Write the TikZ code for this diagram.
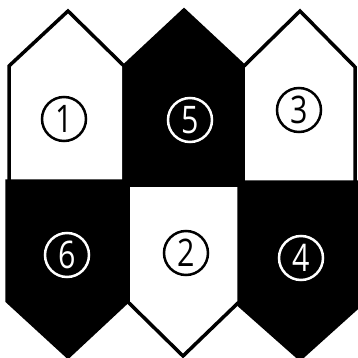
\documentclass[tikz,border=0pt]{standalone}
\usepackage{fontspec}
\newfontfamily\digitfont[FakeStretch=0.8]{Open Sans}
\begin{document}
\begin{tikzpicture}[x=1pt,y=-1pt,
  tile/.style={draw=black,line width=3.5pt,line join=miter},
  whitetile/.style={tile,fill=white},
  blacktile/.style={tile,fill=black},
  numw/.style={circle,draw=black,line width=2.5pt,minimum size=44pt,inner sep=0pt,text=black,font=\digitfont\fontsize{38}{38}\selectfont},
  numb/.style={numw,draw=white,text=white}]
\useasboundingbox (0,0) rectangle (358,358);
% bottom row
\draw[blacktile] (7,181) -- (128,181) -- (128,301) -- (68,357) -- (7,301) -- cycle;
\draw[blacktile] (239,182) -- (360,182) -- (360,305) -- (300,359) -- (239,305) -- cycle;
\draw[whitetile] (128,185) -- (239,185) -- (239,302) -- (183,356) -- (128,302) -- cycle;
% top row
\draw[whitetile] (9,181) -- (9,66) -- (68,11) -- (124,66) -- (124,181) -- cycle;
\draw[blacktile] (124,185) -- (124,66) -- (184,10) -- (243,65) -- (243,185) -- cycle;
\draw[whitetile] (243,182) -- (243,67) -- (300,11) -- (355,67) -- (355,182) -- cycle;
% numbers
\node[numw] (n1) at (64,119) {\raisebox{-0.5ex}{1}};
\node[numb] (n5) at (190,120) {\raisebox{-0.5ex}{5}};
\node[numw] (n3) at (299,110) {\raisebox{-0.5ex}{3}};
\node[numb] (n6) at (67,255) {\raisebox{-0.5ex}{6}};
\node[numw] (n2) at (186,253) {\raisebox{-0.5ex}{2}};
\node[numb] (n4) at (301,258) {\raisebox{-0.5ex}{4}};
\end{tikzpicture}
\end{document}
